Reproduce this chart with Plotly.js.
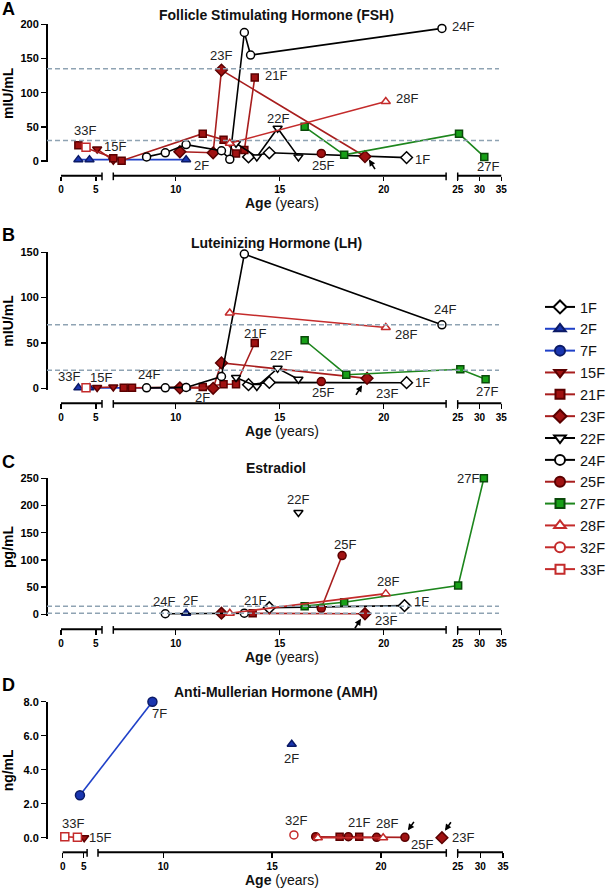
<!DOCTYPE html>
<html><head><meta charset="utf-8">
<script src="https://cdn.plot.ly/plotly-3.0.1.min.js"></script>
<style>html,body{margin:0;padding:0;background:#fff}</style>
</head><body><div id="chart" style="width:607px;height:888px"></div>
<script>
// ================= DATA (ages in years, hormone values) =================
const subjects = ['1F','2F','7F','15F','21F','23F','22F','24F','25F','27F','28F','32F','33F'];
const xTickLabels = [0, 5, 10, 15, 20, 25, 30, 35];

// ---- A: FSH (mIU/mL) ----
const fsh_1F_age  = [13.5, 14.5, 21.1];                          const fsh_1F  = [6, 12, 5];
const fsh_2F_age  = [2.5, 4.1, 10.5];                            const fsh_2F  = [2, 2, 2];
const fsh_15F_age = [5.2, 7.0];                                  const fsh_15F = [17.5, 1];
const fsh_21F_age = [2.5, 7.0, 7.4, 11.3, 12.3, 12.9, 13.3, 13.8]; const fsh_21F = [23, 4, 0.5, 40, 31, 11, 16, 122];
const fsh_23F_age = [10.2, 11.8, 12.2, 19.1];                    const fsh_23F = [13.5, 12, 133, 6.5];
const fsh_22F_age = [12.9, 13.9, 14.9, 15.9];                    const fsh_22F = [26, 6, 48, 6];
const fsh_24F_age = [8.6, 9.5, 10.5, 12.2, 12.6, 13.3, 13.6, 22.8]; const fsh_24F = [6, 12, 24, 15, 2.4, 188, 155, 194];
const fsh_25F_age = [17.0];                                      const fsh_25F = [11];
const fsh_27F_age = [16.2, 18.1, 25.3, 31.1];                    const fsh_27F = [50, 9, 40, 6];
const fsh_28F_age = [12.6, 20.1];                                const fsh_28F = [26, 87];
const fsh_33F_age = [3.6];                                       const fsh_33F = [20];
const fshRefs = [135, 30];

// ---- B: LH (mIU/mL) ----
const lh_1F_age  = [13.5, 14.5, 21.1];                     const lh_1F  = [4, 6.5, 6.2];
const lh_2F_age  = [2.5, 4.1, 10.5];                       const lh_2F  = [0.5, 0.5, 0.5];
const lh_15F_age = [5.2, 7.0];                             const lh_15F = [0.8, 1.5];
const lh_21F_age = [7.5, 7.9, 11.3, 12.3, 12.9, 13.8];     const lh_21F = [0.5, 0.5, 1.5, 4.5, 4.5, 50];
const lh_23F_age = [10.2, 11.8, 12.2, 19.2];               const lh_23F = [0.5, 0, 28, 11];
const lh_22F_age = [12.9, 13.9, 14.9, 15.9];               const lh_22F = [12, 2, 22, 10];
const lh_24F_age = [8.6, 9.5, 10.5, 12.2, 13.3, 22.8];     const lh_24F = [0.5, 0.5, 1, 13, 148, 70];
const lh_25F_age = [17.0];                                 const lh_25F = [7.4];
const lh_27F_age = [16.2, 18.2, 25.6, 31.4];               const lh_27F = [53, 15, 21, 10];
const lh_28F_age = [12.6, 20.1];                           const lh_28F = [83, 67];
const lh_33F_age = [3.6];                                  const lh_33F = [0.5];
const lhRefs = [70, 20];

// ---- C: Estradiol (pg/mL) ----
const e2_1F_age  = [14.5, 21.0];             const e2_1F  = [12, 16];
const e2_2F_age  = [10.5];                   const e2_2F  = [2];
const e2_21F_age = [13.7];                   const e2_21F = [2];
const e2_23F_age = [12.2, 19.1];             const e2_23F = [2, 1];
const e2_22F_age = [15.9];                   const e2_22F = [187];
const e2_24F_age = [9.5, 13.3];              const e2_24F = [1, 2];
const e2_25F_age = [17.0, 18.0];             const e2_25F = [11, 108];
const e2_27F_age = [16.2, 18.1, 25.1, 31.0]; const e2_27F = [15, 22, 53, 250];
const e2_28F_age = [12.6, 20.1];             const e2_28F = [2, 38];
const e2Refs = [15, 2];

// ---- D: AMH (ng/mL) ----
const amh_2F_age  = [15.9];                    const amh_2F  = [5.5];
const amh_7F_age  = [4.1, 9.5];                const amh_7F  = [2.5, 8.0];
const amh_15F_age = [5.1];                     const amh_15F = [0];
const amh_21F_age = [18.1, 19.0];              const amh_21F = [0.06, 0.06];
const amh_23F_age = [22.8];                    const amh_23F = [0];
const amh_25F_age = [17.0, 18.5, 19.8, 21.1];  const amh_25F = [0.06, 0.06, 0.02, 0.02];
const amh_28F_age = [17.1, 20.1];              const amh_28F = [0, 0];
const amh_32F_age = [16.0];                    const amh_32F = [0.16];
const amh_33F_age = [0.5, 3.5];                const amh_33F = [0.06, 0.02];

// ================= LAYOUT / STYLE =================
const W = 607, H = 888;
const FONT = 'Arial, "Liberation Sans", Helvetica, sans-serif';

// broken x-axis segments: age range -> pixel range
const brABC = [{a0:0,a1:5.9,p0:61,p1:102},{a0:7,a1:23,p0:113.3,p1:446.1},{a0:25,a1:35,p0:457.7,p1:501.3}];
const brD   = [{a0:0,a1:5.8,p0:62.7,p1:87.1},{a0:7,a1:23,p0:98,p1:446.3},{a0:25,a1:35,p0:457.7,p1:503}];
function U(age, br){
  let s = br[br.length-1];
  for (const b of br){ if (age <= b.a1 + 1e-9){ s = b; break; } }
  return s.p0 + (age - s.a0) * (s.p1 - s.p0) / (s.a1 - s.a0);
}

const DR = '#a01212', DRE = '#5a0000', DRL = '#a81e1e';
const RD = '#c42b2b';
const BL = '#1a36b0', BLE = '#0b1a66', BLL = '#1f40c8';
const GR = '#17a017', GRE = '#0a4a0a', GRL = '#1d861d';
const st = {
  '1F': {sym:'diamond',       fill:'#fff', edge:'#000', line:'#000', size:9},
  '2F': {sym:'triangle-up',   fill:BL,     edge:BLE,    line:BLL,    size:8},
  '7F': {sym:'circle',        fill:BL,     edge:BLE,    line:BLL,    size:9},
  '15F':{sym:'triangle-down', fill:DR,     edge:DRE,    line:DRL,    size:8},
  '21F':{sym:'square',        fill:DR,     edge:DRE,    line:DRL,    size:7},
  '23F':{sym:'diamond',       fill:DR,     edge:DRE,    line:DRL,    size:9},
  '22F':{sym:'triangle-down', fill:'#fff', edge:'#000', line:'#000', size:8},
  '24F':{sym:'circle',        fill:'#fff', edge:'#000', line:'#000', size:8},
  '25F':{sym:'circle',        fill:DR,     edge:DRE,    line:DRL,    size:8},
  '27F':{sym:'square',        fill:GR,     edge:GRE,    line:GRL,    size:7},
  '28F':{sym:'triangle-up',   fill:'#fff', edge:RD,     line:RD,     size:8},
  '32F':{sym:'circle',        fill:'#fff', edge:RD,     line:RD,     size:8},
  '33F':{sym:'square',        fill:'#fff', edge:RD,     line:RD,     size:8}
};

const panels = [
  {letter:'A', title:'Follicle Stimulating Hormone (FSH)', ytitle:'mIU/mL', max:200, step:50, fmt:v=>String(v),
   zeroPx:161, topPx:24.3, axisPx:175.7, titlePx:15, letterPx:9.5, rmin:-2, br:brABC, refs:fshRefs,
   data:{'1F':[fsh_1F_age,fsh_1F],'2F':[fsh_2F_age,fsh_2F],'15F':[fsh_15F_age,fsh_15F],'21F':[fsh_21F_age,fsh_21F],
         '23F':[fsh_23F_age,fsh_23F],'22F':[fsh_22F_age,fsh_22F],'24F':[fsh_24F_age,fsh_24F],'25F':[fsh_25F_age,fsh_25F],
         '27F':[fsh_27F_age,fsh_27F],'28F':[fsh_28F_age,fsh_28F],'33F':[fsh_33F_age,fsh_33F]},
   labels:[['33F',0,-1,17],['15F',0,18,3],['23F',2,0,15],['21F',-1,21,2],['22F',2,0,10],['2F',-1,15,-6],
           ['24F',-1,21,2],['28F',-1,21,3],['25F',0,2,-12],['1F',-1,16,-2],['27F',-1,4,-10]],
   arrows:[['23F',-1,4,-3,7,11]]},
  {letter:'B', title:'Luteinizing Hormone (LH)', ytitle:'mIU/mL', max:150, step:50, fmt:v=>String(v),
   zeroPx:388.3, topPx:252.3, axisPx:403.3, titlePx:243, letterPx:235, rmin:-1.5, br:brABC, refs:lhRefs,
   data:{'1F':[lh_1F_age,lh_1F],'2F':[lh_2F_age,lh_2F],'15F':[lh_15F_age,lh_15F],'21F':[lh_21F_age,lh_21F],
         '23F':[lh_23F_age,lh_23F],'22F':[lh_22F_age,lh_22F],'24F':[lh_24F_age,lh_24F],'25F':[lh_25F_age,lh_25F],
         '27F':[lh_27F_age,lh_27F],'28F':[lh_28F_age,lh_28F],'33F':[lh_33F_age,lh_33F]},
   labels:[['33F',0,-17,11],['15F',0,4,10],['24F',0,2,13],['2F',-1,16,-10],['21F',-1,0,9],['22F',2,3,13],
           ['24F',-1,3,15],['28F',-1,20,-7],['25F',0,2,-11],['23F',-1,20,-15],['1F',-1,16,0],['27F',-1,1,-12]],
   arrows:[['23F',-1,-5,-7,-7,11]]},
  {letter:'C', title:'Estradiol', ytitle:'pg/mL', max:250, step:50, fmt:v=>String(v),
   zeroPx:614.3, topPx:478.3, axisPx:629.3, titlePx:468, letterPx:461.7, rmin:-2.5, br:brABC, refs:e2Refs,
   data:{'1F':[e2_1F_age,e2_1F],'2F':[e2_2F_age,e2_2F],'21F':[e2_21F_age,e2_21F],'23F':[e2_23F_age,e2_23F],
         '22F':[e2_22F_age,e2_22F],'24F':[e2_24F_age,e2_24F],'25F':[e2_25F_age,e2_25F],'27F':[e2_27F_age,e2_27F],
         '28F':[e2_28F_age,e2_28F]},
   labels:[['24F',0,-1,12],['2F',0,4,13],['21F',0,2,13],['22F',0,0,13],['25F',-1,3,11],['28F',-1,2,12],
           ['1F',-1,17,4],['23F',-1,21,-7],['27F',-1,-16,0]],
   arrows:[['23F',-1,-4,-5,-7,11]]},
  {letter:'D', title:'Anti-Mullerian Hormone (AMH)', ytitle:'ng/mL', max:8, step:2, fmt:v=>v.toFixed(1),
   zeroPx:837.7, topPx:701.7, axisPx:852.3, titlePx:691.7, letterPx:685, rmin:-0.08, br:brD, refs:[],
   data:{'2F':[amh_2F_age,amh_2F],'7F':[amh_7F_age,amh_7F],'15F':[amh_15F_age,amh_15F],'21F':[amh_21F_age,amh_21F],
         '23F':[amh_23F_age,amh_23F],'25F':[amh_25F_age,amh_25F],'28F':[amh_28F_age,amh_28F],'32F':[amh_32F_age,amh_32F],
         '33F':[amh_33F_age,amh_33F]},
   labels:[['7F',-1,7,-12],['2F',0,0,-14],['33F',0,8,13],['15F',0,16,0],['32F',0,2,14],['21F',-1,0,14],
           ['28F',-1,4,14],['25F',-1,17,-7],['23F',0,21,0]],
   arrows:[['25F',-1,3,7,7,-10],['23F',0,3,7,7,-10]]}
];

// ================= BUILD =================
const traces = [];
subjects.forEach(s => {
  const S = st[s];
  traces.push({type:'scatter', mode:'lines+markers', name:s, x:[null], y:[null], xaxis:'x', yaxis:'y',
    showlegend:true, hoverinfo:'skip', line:{color:S.line, width:2},
    marker:{symbol:S.sym, size:S.sym==='square'?9:10, color:S.fill, line:{color:S.edge, width:2}}});
});

const layout = {
  width:W, height:H, margin:{l:0,r:0,t:0,b:0,autoexpand:false},
  paper_bgcolor:'#fff', plot_bgcolor:'rgba(0,0,0,0)',
  font:{family:FONT, color:'#000'},
  showlegend:true,
  legend:{x:540/W, xanchor:'left', y:1-291/H, yanchor:'top', font:{family:FONT, size:14.5, color:'#111'},
          bgcolor:'rgba(0,0,0,0)', borderwidth:0, tracegroupgap:0, traceorder:'normal'},
  shapes:[], annotations:[]
};

panels.forEach((P, k) => {
  const ax = k === 0 ? '' : String(k+1);
  const scale = (P.zeroPx - P.topPx) / P.max;
  const botPx = P.zeroPx - P.rmin * scale;
  const yvals = []; for (let v = 0; v <= P.max + 1e-9; v += P.step) yvals.push(v);
  layout['yaxis'+ax] = {domain:[1-botPx/H, 1-P.topPx/H], range:[P.rmin, P.max], anchor:'free', position:47/W,
    showline:true, linewidth:2, linecolor:'#000', ticks:'outside', ticklen:5, tickwidth:1.5, tickcolor:'#000',
    tickmode:'array', tickvals:yvals, ticktext:yvals.map(P.fmt), showgrid:false, zeroline:false, fixedrange:true,
    tickfont:{family:FONT, size:11, weight:700, color:'#000'},
    title:{text:P.ytitle, font:{family:FONT, size:14, weight:700, color:'#000'}, standoff:6}};
  const xp = 1 - P.axisPx/H;
  layout['xaxis'+ax] = {domain:[0,1], range:[0,W], anchor:'free', position:xp,
    showline:false, showgrid:false, zeroline:false, ticks:'outside', ticklen:4.5, tickwidth:1.5, tickcolor:'#000',
    tickmode:'array', tickvals:xTickLabels.map(a=>U(a,P.br)), ticktext:xTickLabels.map(String), fixedrange:true,
    tickfont:{family:FONT, size:10, weight:700, color:'#000'}};

  // broken axis segments with caps
  P.br.forEach((b, i) => {
    layout.shapes.push({type:'line', xref:'x', yref:'paper', x0:b.p0, x1:b.p1, y0:xp, y1:xp, line:{color:'#000', width:2}});
    const caps = [];
    if (i > 0) caps.push(b.p0);
    if (i < P.br.length-1) caps.push(b.p1);
    caps.forEach(c => layout.shapes.push({type:'line', xref:'x', yref:'paper', x0:c, x1:c,
      y0:xp+3.2/H, y1:xp-4.5/H, line:{color:'#000', width:1.5}}));
  });
  // reference dashed lines
  P.refs.forEach(v => layout.shapes.push({type:'line', xref:'x', yref:'y'+ax, x0:47, x1:499, y0:v, y1:v,
    line:{color:'#8fa3b3', width:1.5, dash:'5px,3px'}}));

  // data traces
  subjects.forEach(s => {
    const d = P.data[s]; if (!d) return;
    const S = st[s];
    traces.push({type:'scatter', mode:'lines+markers', name:s, x:d[0].map(a=>U(a,P.br)), y:d[1],
      xaxis:'x'+ax, yaxis:'y'+ax, showlegend:false, cliponaxis:false, hoverinfo:'skip',
      line:{color:S.line, width:1.6},
      marker:{symbol:S.sym, size:S.size, color:S.fill, line:{color:S.edge, width:1.5}}});
  });

  // titles
  layout.annotations.push({xref:'paper', yref:'paper', x:0, xanchor:'left', y:1-P.letterPx/H, yanchor:'middle',
    text:'<b>'+P.letter+'</b>', showarrow:false, font:{family:FONT, size:18, color:'#000'}});
  layout.annotations.push({xref:'paper', yref:'paper', x:276/W, xanchor:'center', y:1-P.titlePx/H, yanchor:'middle',
    text:'<b>'+P.title+'</b>', showarrow:false, font:{family:FONT, size:14, color:'#111'}});
  layout.annotations.push({xref:'paper', yref:'paper', x:281.7/W, xanchor:'center', y:1-(P.axisPx+27.5)/H, yanchor:'middle',
    text:'<b>Age</b> (years)', showarrow:false, font:{family:FONT, size:14, color:'#111'}});

  // point labels
  P.labels.forEach(([s, i, dx, dy]) => {
    const d = P.data[s]; const j = i < 0 ? d[0].length + i : i;
    layout.annotations.push({xref:'x'+ax, yref:'y'+ax, x:U(d[0][j],P.br), y:d[1][j], xshift:dx, yshift:dy,
      text:s, showarrow:false, xanchor:'center', yanchor:'middle', font:{family:FONT, size:13, color:'#222'}});
  });
  // arrows
  P.arrows.forEach(([s, i, dx, dy, tx, ty]) => {
    const d = P.data[s]; const j = i < 0 ? d[0].length + i : i;
    layout.annotations.push({xref:'x'+ax, yref:'y'+ax, x:U(d[0][j],P.br), y:d[1][j], xshift:dx, yshift:dy,
      text:'', showarrow:true, arrowhead:2, arrowsize:0.8, arrowwidth:1.6, arrowcolor:'#000', ax:tx, ay:ty, standoff:0});
  });
});

Plotly.newPlot('chart', traces, layout, {staticPlot:true, displayModeBar:false});
</script></body></html>
